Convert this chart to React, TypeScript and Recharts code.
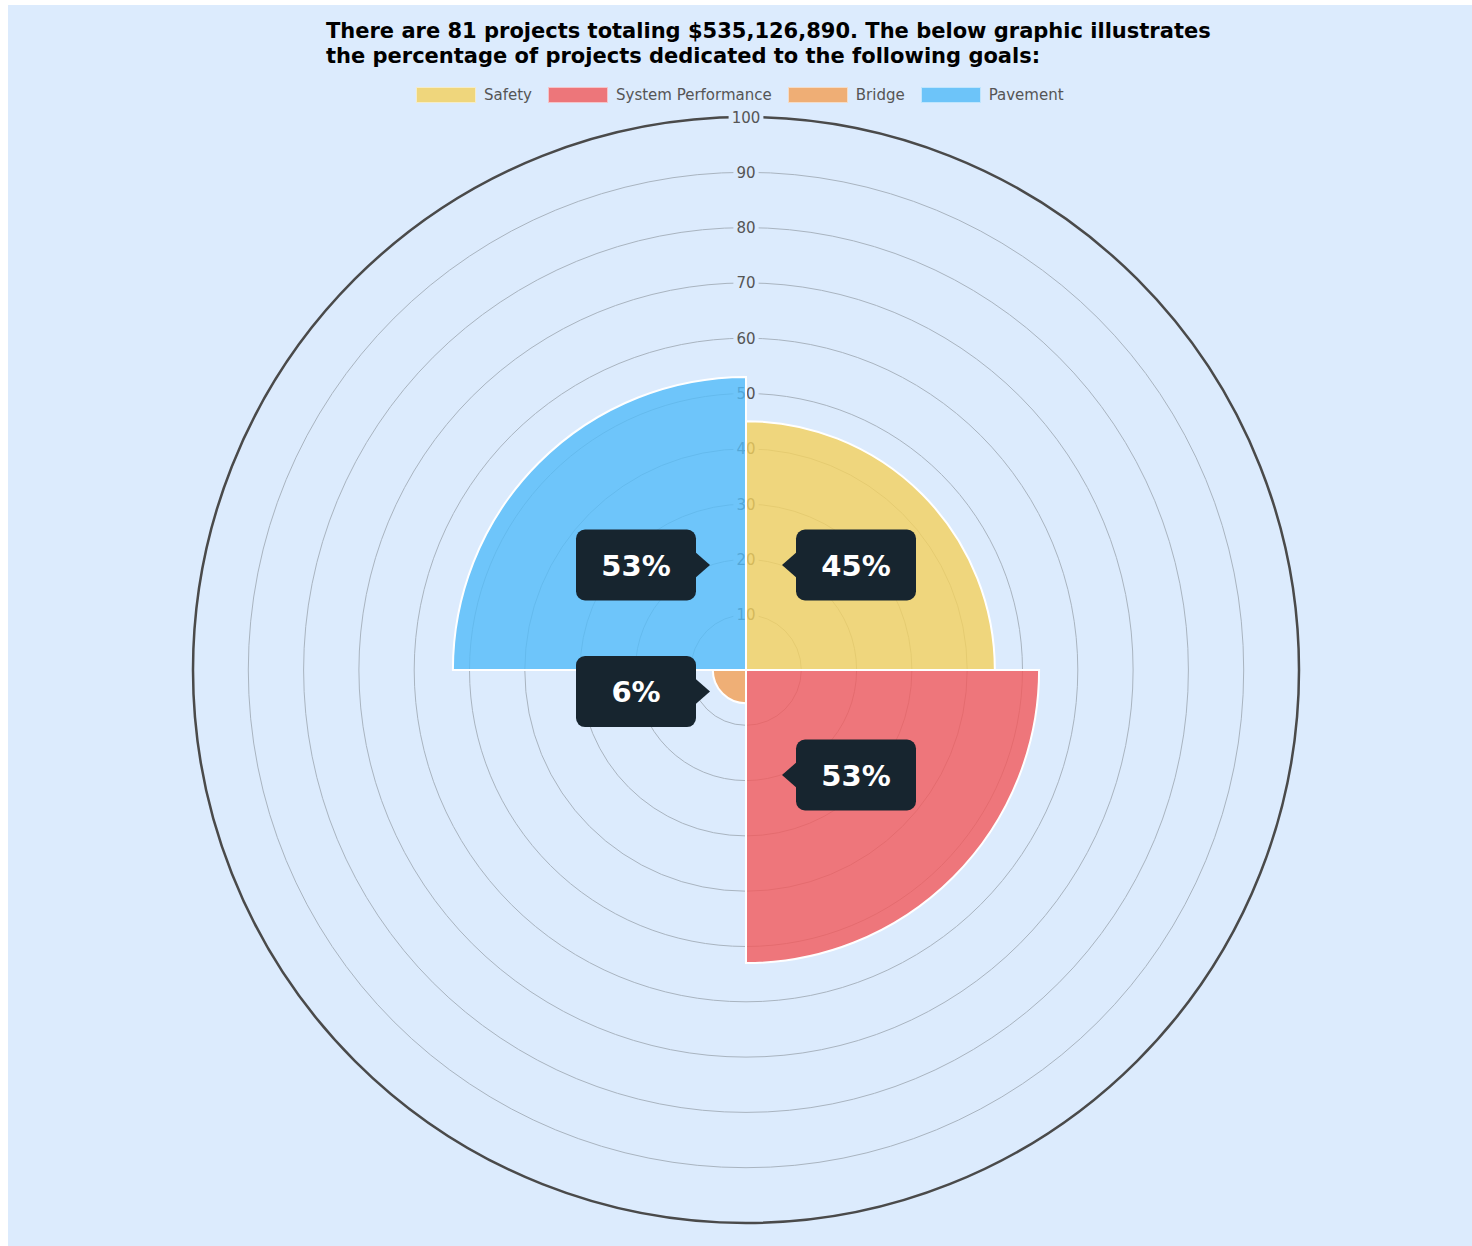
import React from 'react';
import {
  RadialBarChart,
  RadialBar,
  PolarGrid,
  PolarAngleAxis,
  PolarRadiusAxis,
  LabelList,
  Cell,
} from 'recharts';

const goals = ['Safety', 'System Performance', 'Bridge', 'Pavement'];
const shares = [45, 53, 6, 53];
const goalColors = ['#F4D15C', '#F2595A', '#F4A054', '#52BBF9'];
const radiusTicks = [10, 20, 30, 40, 50, 60, 70, 80, 90, 100];

const titleLines = [
  'There are 81 projects totaling $535,126,890. The below graphic illustrates',
  'the percentage of projects dedicated to the following goals:',
];

const BG = '#DCEBFD';
const FONT = '"DejaVu Sans", Verdana, sans-serif';

const rows = goals.map((goal, i) => ({ goal, share: shares[i] }));

function RadiusTick(props: any) {
  const { x, y, payload } = props;
  const label = String(payload.value);
  const w = label.length * 9.6 + 6;
  return (
    <g>
      <rect x={x - w / 2} y={y - 10} width={w} height={20} fill={BG} />
      <text x={x} y={y + 5.5} textAnchor="middle" fontSize={15} fontFamily={FONT} fill="#555">
        {label}
      </text>
    </g>
  );
}

// dark hover-style callout pointing at the sector
function Callout(props: any) {
  const { viewBox, value } = props;
  if (!viewBox || viewBox.cx == null) return null;
  const { cx, cy, outerRadius, startAngle, endAngle } = viewBox;
  const mid = (((startAngle + endAngle) / 2) * Math.PI) / 180;
  const sx = Math.cos(mid) >= 0 ? 1 : -1;
  const sy = Math.sin(mid) >= 0 ? 1 : -1;
  const tipX = cx + sx * 36;
  const tipY = cy - sy * Math.min(105, outerRadius * 0.65);
  const nearX = tipX + sx * 14;
  const farX = nearX + sx * 120;
  const left = Math.min(nearX, farX);
  return (
    <g>
      <rect x={left} y={tipY - 35.5} width={120} height={71} rx={9} fill="#17252F" />
      <polygon
        points={`${tipX},${tipY} ${nearX + sx * 2},${tipY - 14} ${nearX + sx * 2},${tipY + 14}`}
        fill="#17252F"
      />
      <text
        x={left + 60}
        y={tipY + 10.5}
        textAnchor="middle"
        fontSize={29}
        fontWeight="bold"
        fontFamily={FONT}
        fill="#fff"
      >
        {`${value}%`}
      </text>
    </g>
  );
}

function LegendRow() {
  return (
    <div
      style={{
        position: 'absolute',
        top: 81,
        left: 408,
        display: 'flex',
        alignItems: 'center',
        fontFamily: FONT,
        fontSize: 15,
        color: '#555',
        whiteSpace: 'nowrap',
      }}
    >
      {goals.map((g, i) => (
        <div key={g} style={{ display: 'flex', alignItems: 'center', marginRight: 16 }}>
          <div
            style={{
              width: 58,
              height: 14,
              background: goalColors[i],
              opacity: 0.8,
              border: '1px solid rgba(255,255,255,0.6)',
              marginRight: 8,
            }}
          />
          <span>{g}</span>
        </div>
      ))}
    </div>
  );
}

export default function App() {
  return (
    <div style={{ position: 'absolute', left: 8, top: 5, width: 1464, height: 1241, background: BG }}>
      <svg width={1464} height={80} style={{ position: 'absolute', left: 0, top: 0 }}>
        {titleLines.map((line, i) => (
          <text
            key={i}
            x={318}
            y={33 + i * 25}
            fontSize={21}
            fontWeight="bold"
            fontFamily={FONT}
            fill="#000"
          >
            {line}
          </text>
        ))}
      </svg>
      <LegendRow />
      <div style={{ position: 'absolute', left: 0, top: 0 }}>
        <RadialBarChart
          width={1464}
          height={1241}
          data={rows}
          layout="centric"
          cx={738}
          cy={665}
          innerRadius={0}
          outerRadius={553}
          startAngle={0}
          endAngle={-360}
          barCategoryGap={0}
          margin={{ top: 0, right: 0, bottom: 0, left: 0 }}
        >
          <PolarGrid gridType="circle" radialLines={false} stroke="#A9B4C0" strokeWidth={1} />
          <PolarAngleAxis
            dataKey="goal"
            type="category"
            tick={false}
            tickLine={false}
            axisLineType="circle"
            stroke="#4A4A4A"
            strokeWidth={2.5}
            {...({ zIndex: -80 } as any)}
          />
          <PolarRadiusAxis
            type="number"
            domain={[0, 100]}
            ticks={radiusTicks}
            angle={90}
            axisLine={false}
            tickLine={false}
            tick={<RadiusTick />}
            {...({ zIndex: -60 } as any)}
          />
          <RadialBar
            dataKey="share"
            isAnimationActive={false}
            stroke="#fff"
            strokeWidth={2}
            fillOpacity={0.8}
          >
            {rows.map((r, i) => (
              <Cell key={r.goal} fill={goalColors[i]} />
            ))}
            <LabelList dataKey="share" content={<Callout />} />
          </RadialBar>
        </RadialBarChart>
      </div>
    </div>
  );
}
